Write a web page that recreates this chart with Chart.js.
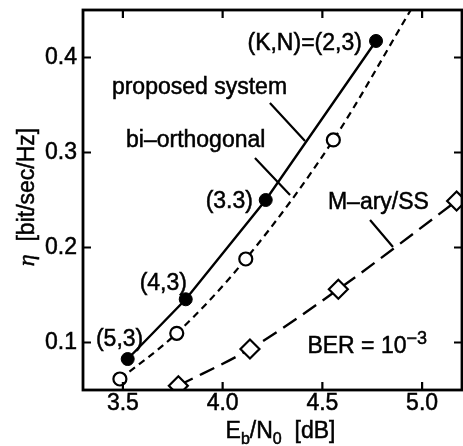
<!DOCTYPE html>
<html><head><meta charset="utf-8">
<script src="https://cdn.jsdelivr.net/npm/chart.js@4/dist/chart.umd.min.js"></script>
<style>html,body{margin:0;padding:0;background:#fff}</style>
</head><body>
<canvas id="c" width="463" height="446"></canvas>
<script>
// ---- data ----
const xTicks = [3.5, 4.0, 4.5, 5.0];
const yTicks = [0.1, 0.2, 0.3, 0.4];

const proposedX = [3.524, 3.815, 4.216, 4.769];
const proposedY = [0.0826, 0.1455, 0.250, 0.4174];

const biorthX = [3.485, 3.770, 4.116, 4.555, 4.943];
const biorthY = [0.0616, 0.1097, 0.1879, 0.3132, 0.450];

const maryX = [3.778, 4.137, 4.580, 5.173];
const maryY = [0.0545, 0.0932, 0.156, 0.249];

// point labels of the proposed system (anchor = right end, baseline)
const kLabels = ['(5,3)', '(4,3)', '(3.3)', '(K,N)=(2,3)'];
const kLabelX = [3.602, 3.821, 4.152, 4.698];
const kLabelY = [0.0958, 0.1553, 0.2416, 0.4076];

// series names (anchor = left end, baseline) and leader lines
const seriesNames = ['proposed system', 'bi\u2013orthogonal', 'M\u2013ary/SS'];
const nameX = [3.445, 3.5155, 4.528];
const nameY = [0.3613, 0.3055, 0.2405];
const leaderX1 = [4.237, 4.162, 4.739];
const leaderY1 = [0.3521, 0.2942, 0.2289];
const leaderX2 = [4.413, 4.338, 4.854];
const leaderY2 = [0.3121, 0.2553, 0.2005];

const berX = 4.425, berY = 0.0889;

const FONT = '"Liberation Sans", Arial, Helvetica, sans-serif';
const TEXT_STROKE = 0.5;

function pts(xs, ys) { return xs.map((v, i) => ({ x: v, y: ys[i] })); }

function txt(ctx, t, x, y) {
  ctx.fillText(t, x, y);
  ctx.strokeText(t, x, y);
}

function drawRuns(ctx, runs, x, y, align) {
  let total = 0;
  runs.forEach(r => { ctx.font = r.font; r.w = ctx.measureText(r.t).width; total += r.w; });
  let cx = align === 'center' ? x - total / 2 : (align === 'right' ? x - total : x);
  ctx.textAlign = 'left';
  ctx.textBaseline = 'alphabetic';
  runs.forEach(r => { ctx.font = r.font; txt(ctx, r.t, cx, y + (r.dy || 0)); cx += r.w; });
}

function noPad(s) { s.paddingTop = 0; s.paddingBottom = 0; s.paddingLeft = 0; s.paddingRight = 0; }

const annot = {
  id: 'annot',
  afterDraw(chart) {
    const { ctx, chartArea: a, scales: { x, y } } = chart;
    ctx.save();
    ctx.strokeStyle = '#000';
    ctx.fillStyle = '#000';
    // inward tick marks
    ctx.lineWidth = 2.2;
    ctx.beginPath();
    xTicks.forEach(v => {
      const px = x.getPixelForValue(v);
      ctx.moveTo(px, a.bottom); ctx.lineTo(px, a.bottom - 8);
      ctx.moveTo(px, a.top); ctx.lineTo(px, a.top + 8);
    });
    yTicks.forEach(v => {
      const py = y.getPixelForValue(v);
      ctx.moveTo(a.left, py); ctx.lineTo(a.left + 8, py);
      ctx.moveTo(a.right, py); ctx.lineTo(a.right - 8, py);
    });
    ctx.stroke();
    // frame
    ctx.lineWidth = 2.8;
    ctx.strokeRect(a.left, a.top, a.right - a.left, a.bottom - a.top);
    // leader lines
    ctx.lineWidth = 2.2;
    ctx.beginPath();
    leaderX1.forEach((v, i) => {
      ctx.moveTo(x.getPixelForValue(v), y.getPixelForValue(leaderY1[i]));
      ctx.lineTo(x.getPixelForValue(leaderX2[i]), y.getPixelForValue(leaderY2[i]));
    });
    ctx.stroke();
    // text
    ctx.lineWidth = TEXT_STROKE;
    const f23 = '23px ' + FONT;
    ctx.font = f23;
    ctx.textBaseline = 'alphabetic';
    ctx.textAlign = 'right';
    kLabels.forEach((t, i) => txt(ctx, t, x.getPixelForValue(kLabelX[i]), y.getPixelForValue(kLabelY[i])));
    ctx.textAlign = 'left';
    seriesNames.forEach((t, i) => txt(ctx, t, x.getPixelForValue(nameX[i]), y.getPixelForValue(nameY[i])));
    drawRuns(ctx, [
      { t: 'BER = 10', font: f23 },
      { t: '\u22123', font: '18px ' + FONT, dy: -9 }
    ], x.getPixelForValue(berX), y.getPixelForValue(berY), 'left');
    // x axis title
    drawRuns(ctx, [
      { t: 'E', font: f23 },
      { t: 'b', font: '16px ' + FONT, dy: 6 },
      { t: '/N', font: f23 },
      { t: '0', font: '16px ' + FONT, dy: 6 },
      { t: '  [dB]', font: f23 }
    ], (a.left + a.right) / 2 + 8, 438, 'center');
    // y axis title
    ctx.save();
    ctx.translate(34, (a.top + a.bottom) / 2 - 3);
    ctx.rotate(-Math.PI / 2);
    drawRuns(ctx, [
      { t: '\u03B7', font: 'italic 24px "Liberation Serif", "Times New Roman", serif' },
      { t: '  [bit/sec/Hz]', font: f23 }
    ], 0, 0, 'center');
    ctx.restore();
    ctx.restore();
  }
};

new Chart(document.getElementById('c'), {
  type: 'scatter',
  data: {
    datasets: [
      {
        label: 'proposed system',
        data: pts(proposedX, proposedY),
        showLine: true,
        borderColor: '#000', borderWidth: 2.4,
        pointStyle: 'circle', pointRadius: 6.5,
        pointBackgroundColor: '#000', pointBorderColor: '#000', pointBorderWidth: 1,
        clip: 0
      },
      {
        label: 'bi-orthogonal',
        data: pts(biorthX, biorthY),
        showLine: true,
        borderColor: '#000', borderWidth: 2.2, borderDash: [7, 5],
        cubicInterpolationMode: 'monotone',
        pointStyle: 'circle',
        pointRadius: biorthX.map((v, i) => i === biorthX.length - 1 ? 0 : 6.5),
        pointBackgroundColor: '#fff', pointBorderColor: '#000', pointBorderWidth: 2.2,
        clip: 0
      },
      {
        label: 'M-ary/SS',
        data: pts(maryX, maryY),
        showLine: true,
        borderColor: '#000', borderWidth: 2.4, borderDash: [16, 8],
        cubicInterpolationMode: 'monotone',
        pointStyle: 'rectRot', pointRadius: 9.5,
        pointBackgroundColor: '#fff', pointBorderColor: '#000', pointBorderWidth: 2.2,
        clip: 0
      }
    ]
  },
  options: {
    responsive: false,
    animation: false,
    events: [],
    layout: { autoPadding: false, padding: { left: 0, right: 1, top: 10, bottom: 0 } },
    plugins: { legend: { display: false }, tooltip: { enabled: false } },
    scales: {
      x: {
        type: 'linear', min: 3.3, max: 5.2,
        grid: { display: false, drawTicks: false },
        border: { display: false },
        afterBuildTicks: s => { s.ticks = xTicks.map(v => ({ value: v })); },
        afterFit: s => { s.height = 56; noPad(s); },
        ticks: {
          color: '#000', padding: 0, maxRotation: 0,
          textStrokeColor: '#000', textStrokeWidth: TEXT_STROKE,
          font: { family: FONT, size: 23 },
          callback: v => Number(v).toFixed(1)
        }
      },
      y: {
        type: 'linear', min: 0.05, max: 0.45,
        grid: { display: false, drawTicks: false },
        border: { display: false },
        afterBuildTicks: s => { s.ticks = yTicks.map(v => ({ value: v })); },
        afterFit: s => { s.width = 83; noPad(s); },
        ticks: {
          color: '#000', padding: 6,
          textStrokeColor: '#000', textStrokeWidth: TEXT_STROKE,
          font: { family: FONT, size: 23 },
          callback: v => Number(v).toFixed(1)
        }
      }
    }
  },
  plugins: [annot]
});
</script>
</body></html>
